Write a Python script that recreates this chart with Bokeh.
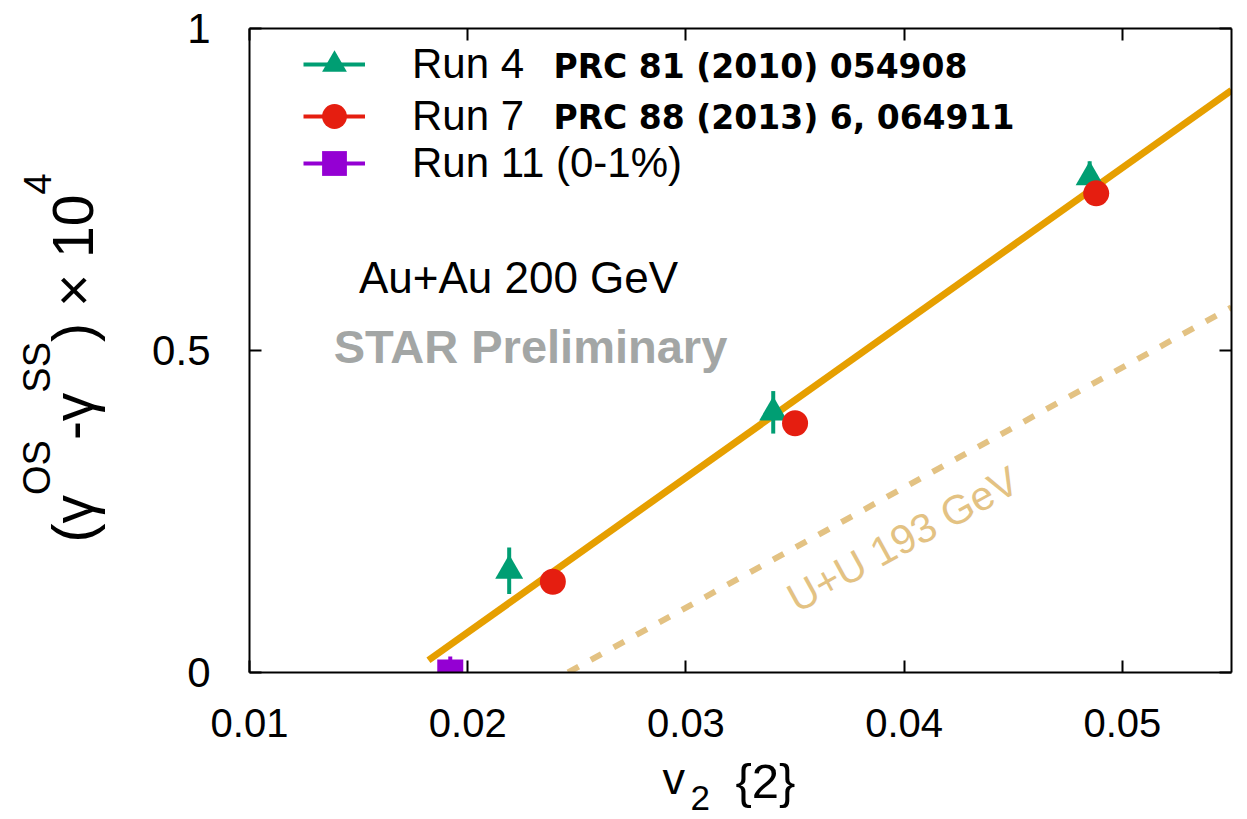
from bokeh.plotting import figure
from bokeh.models import Range1d, LinearAxis, FixedTicker, Label, Legend, LegendItem
from bokeh.layouts import column, row
from bokeh.embed import file_html
from bokeh.resources import INLINE
import math

# ---------------- data ----------------
run4_v2 = [0.0219, 0.0340, 0.0485]
run4_gamma = [0.158, 0.404, 0.769]
run4_err = [0.036, 0.033, 0.025]

run7_v2 = [0.0239, 0.0350, 0.0488]
run7_gamma = [0.141, 0.387, 0.744]
run7_err = [0.012, 0.012, 0.012]

run11_v2 = [0.0192]
run11_gamma = [0.0]
run11_err = [0.025]

fit_v2 = [0.0182, 0.055]
fit_gamma = [0.019, 0.904]

uu_v2 = [0.0246, 0.055]
uu_gamma = [0.0, 0.567]

x_ticks = [0.01, 0.02, 0.03, 0.04, 0.05]
x_tick_labels = ["0.01", "0.02", "0.03", "0.04", "0.05"]
y_ticks = [0, 0.5, 1]
y_tick_labels = ["0", "0.5", "1"]

legend_labels = ["Run 4", "Run 7", "Run 11 (0-1%)"]
legend_refs = ["PRC 81 (2010) 054908", "PRC 88 (2013) 6, 064911"]

# ---------------- layout ----------------
W, H = 1247, 819
YW = 140          # width of the y-title strip
XH = 65           # height of the x-title strip
MW, MH = W - YW, H - XH
FL, FR, FT, FB = 249, 1231, 28, 672   # frame in page pixels
X0, X1, Y0, Y1 = 0.01, 0.055, 0.0, 1.0
BASE_SHIFT = 0.4  # em correction for rendered baseline
MID = 0.35        # em from baseline to text middle

FONT = "Liberation Sans"
GREEN = "#009e73"
RED = "#e51e10"
PURPLE = "#9400d3"
ORANGE = "#e69f00"
TAN = "#e3c283"


def dx(px):
    return X0 + (px - FL) * (X1 - X0) / (FR - FL)


def dy(py):
    return Y0 + (FB - py) * (Y1 - Y0) / (FB - FT)


p = figure(width=MW, height=MH, output_backend="svg", toolbar_location=None,
           x_range=Range1d(X0, X1), y_range=Range1d(Y0, Y1),
           min_border_left=FL - YW, min_border_right=W - FR,
           min_border_top=FT, min_border_bottom=MH - FB)
p.background_fill_color = "white"
p.border_fill_color = "white"
p.outline_line_color = None
p.xgrid.visible = False
p.ygrid.visible = False


def style_axis(ax, ticks, labels, font_size, standoff, show_labels=True):
    ax.ticker = FixedTicker(ticks=ticks)
    ax.major_label_overrides = {t: l for t, l in zip(ticks, labels)}
    ax.axis_line_width = 2
    ax.axis_line_color = "black"
    ax.major_tick_line_width = 2
    ax.major_tick_in = 12
    ax.major_tick_out = 0
    ax.minor_tick_line_color = None
    ax.major_label_text_font = FONT
    ax.major_label_text_color = "black"
    if show_labels:
        ax.major_label_text_font_size = font_size
        ax.major_label_standoff = standoff
    else:
        ax.major_label_text_font_size = "0px"
        ax.major_label_standoff = 0
        ax.major_label_text_alpha = 0


style_axis(p.xaxis[0], x_ticks, x_tick_labels, "40px", 36)
style_axis(p.yaxis[0], y_ticks, y_tick_labels, "42px", 39)

top_ax = LinearAxis()
style_axis(top_ax, x_ticks, x_tick_labels, "0px", 0, show_labels=False)
p.add_layout(top_ax, "above")
right_ax = LinearAxis()
style_axis(right_ax, y_ticks, y_tick_labels, "0px", 0, show_labels=False)
p.add_layout(right_ax, "right")

# ---------------- lines ----------------
p.line(uu_v2, uu_gamma, line_color=TAN, line_width=6, line_dash="12 14")
p.line(fit_v2, fit_gamma, line_color=ORANGE, line_width=7)


# ---------------- data series ----------------
def series(xs, ys, es, color, marker, size):
    seg = p.segment(x0=xs, y0=[y - e for y, e in zip(ys, es)],
                    x1=xs, y1=[y + e for y, e in zip(ys, es)],
                    line_color=color, line_width=4)
    sc = p.scatter(xs, ys, marker=marker, size=size, fill_color=color,
                   line_color=color, line_width=0)
    return seg, sc


r4 = series(run4_v2, run4_gamma, run4_err, GREEN, "triangle", 28)
r7 = series(run7_v2, run7_gamma, run7_err, RED, "circle", 26)
r11 = series(run11_v2, run11_gamma, run11_err, PURPLE, "square", 26)

# one legend per row so that the sample markers can be large
GH = 62
for lab, rends, c in zip(legend_labels, [r4, r7, r11], [64, 116, 163]):
    lg = Legend(items=[LegendItem(label=lab, renderers=list(rends))],
                location=(303 - FL, FB - (c + GH / 2)))
    lg.glyph_width = 62
    lg.glyph_height = GH
    lg.spacing = 0
    lg.padding = 0
    lg.margin = 0
    lg.label_standoff = 47
    lg.label_text_font = FONT
    lg.label_text_font_size = "42px"
    lg.label_text_color = "black"
    lg.label_text_baseline = "middle"
    lg.background_fill_alpha = 0
    lg.border_line_color = None
    p.add_layout(lg, "center")


def add_label(fig, x, y, text, fs, font=FONT, style="normal", color="black",
              align="left", angle=0.0, baseline="alphabetic"):
    fig.add_layout(Label(x=x, y=y, text=text, text_font=font, text_font_style=style,
                         text_font_size=f"{fs}px", text_color=color, text_align=align,
                         text_baseline=baseline, angle=angle, angle_units="deg"))


def shifted(px, py, fs, angle):
    a = math.radians(angle)
    return px - BASE_SHIFT * fs * math.sin(a), py - BASE_SHIFT * fs * math.cos(a)


def main_label(px, py, text, fs, angle=0.0, **kw):
    sx, sy = shifted(px, py, fs, angle)
    add_label(p, dx(sx), dy(sy), text, fs, angle=angle, **kw)


# legend reference texts (bold)
for i, txt in enumerate(legend_refs):
    main_label(553, 79 + 51 * i, txt, 33, font="DejaVu Sans", style="bold")

# annotations
main_label(518, 295, "Au+Au 200 GeV", 44, align="center")
main_label(530, 365, "STAR Preliminary", 47, style="bold", color="#a3a6a5", align="center")
main_label(798, 615, "U+U 193 GeV", 41, color=TAN, angle=28.8)

# ---------------- y title strip ----------------
# its frame is aligned by the row with the main frame (page y FT..FB),
# so data y = -page y
yf = figure(width=YW, height=MH, output_backend="svg", toolbar_location=None,
            x_range=Range1d(0, YW), y_range=Range1d(-FB, -FT),
            x_axis_location=None, y_axis_location=None, min_border=0)
yf.outline_line_color = None
yf.xgrid.visible = False
yf.ygrid.visible = False
yf.background_fill_color = "white"
yf.border_fill_color = "white"

ypieces = [("(γ", 57, 0.833, False), ("OS", 38, 1.445, True), ("-γ", 57, 0.833, False),
           ("SS", 38, 1.334, True), (") × 10", 57, 2.585, False), ("4", 38, 0.556, True)]
pos = 542.0
for txt, fs, em, sup in ypieces:
    base = 50 if sup else 92
    length = em * fs
    cx = base - MID * fs
    cy = pos - length / 2
    add_label(yf, cx, -cy, txt, fs, angle=90, align="center", baseline="middle")
    pos -= length

# ---------------- x title strip ----------------
xf = figure(width=W, height=XH, output_backend="svg", toolbar_location=None,
            x_range=Range1d(0, W), y_range=Range1d(0, XH),
            x_axis_location=None, y_axis_location=None, min_border=0)
xf.outline_line_color = None
xf.xgrid.visible = False
xf.ygrid.visible = False
xf.background_fill_color = "white"
xf.border_fill_color = "white"

for px, py, txt, fs in [(662, 796, "v", 45), (690, 811, "2", 35), (735, 800, "{2}", 49)]:
    sx, sy = shifted(px, py, fs, 0)
    add_label(xf, sx, H - sy, txt, fs)

layout = column(row(yf, p, spacing=0), xf, spacing=0)
open("out.html", "w").write(file_html(layout, INLINE))
